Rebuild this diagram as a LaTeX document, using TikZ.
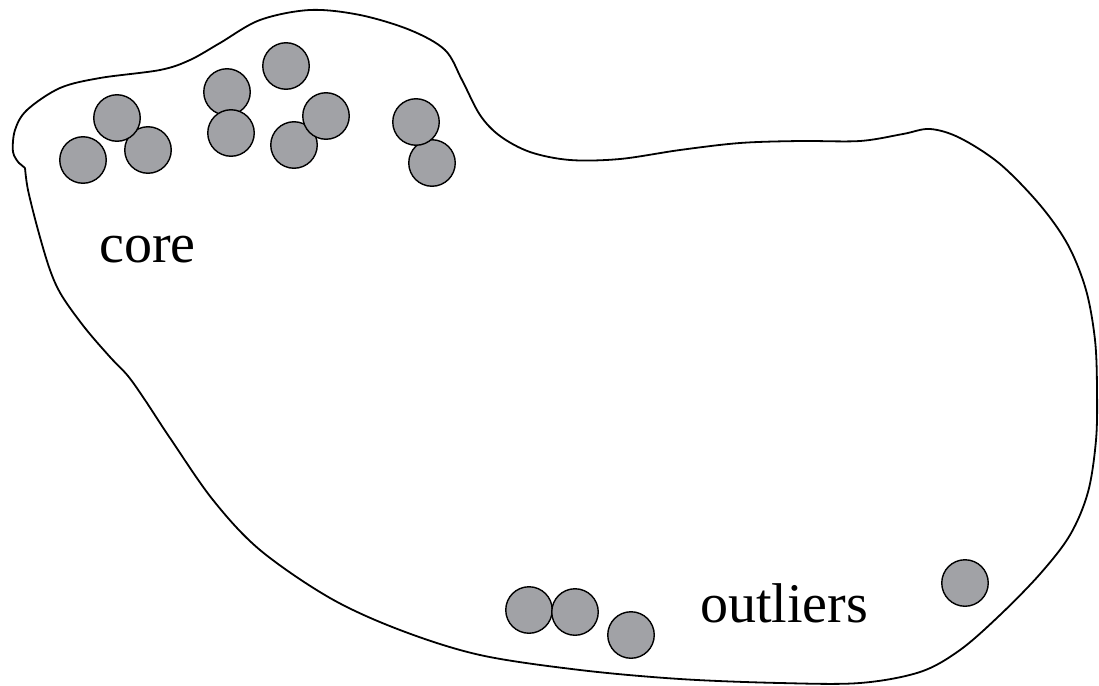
\documentclass[tikz,border=0pt]{standalone}
\usepackage{fontspec}
\setmainfont{Liberation Serif}
\definecolor{dotgray}{RGB}{161,162,166}
\tikzset{
  dot/.style={circle, draw=black, fill=dotgray, line width=1.4pt, minimum size=46.5pt, inner sep=0pt},
  blob/.style={draw=black, line width=1.8pt},
  lbl/.style={anchor=base west, inner sep=0pt, font=\fontsize{56}{60}\selectfont}
}
\begin{document}
\begin{tikzpicture}[x=1pt, y=-1pt]
\useasboundingbox (0,0) rectangle (1099,685);
\draw[blob] plot[smooth, tension=0.55] coordinates {
(25,168) (28,190) (38,230) (50,270) (62,296) (85,328) (110,357) (128,376)
(145,400) (170,438) (213,500) (260,550) (330,598) (400,630) (480,655)
(580,670) (680,679) (780,683) (860,683) (920,672) (960,650) (1000,615)
(1040,574) (1070,535) (1088,492) (1096,440) (1097,390) (1095,340)
(1086,290) (1068,245) (1040,205) (1000,164)
(960,138) (930,129) (903,134) (860,141) (800,141) (740,143) (680,150)
(620,159) (570,160) (530,152) (500,136) (480,115) (462,80) (445,50)
(410,30) (360,15) (310,10) (260,20) (220,43) (190,60) (160,70) (100,78)
(60,88) (27,110) (15,130) (13,152) (19,163)} -- (25,168);
% core points
\node[dot] (c1) at (83,160) {};
\node[dot] (c3) at (148,150) {};
\node[dot] (c2) at (117,118) {};
\node[dot] (c4) at (227,92) {};
\node[dot] (c5) at (231,133) {};
\node[dot] (c6) at (286,66) {};
\node[dot] (c8) at (294,145) {};
\node[dot] (c7) at (326,116) {};
\node[dot] (c10) at (432,163) {};
\node[dot] (c9) at (416,122) {};
% outliers
\node[dot] (d1) at (529,610) {};
\node[dot] (d2) at (575,612) {};
\node[dot] (d3) at (631,635) {};
\node[dot] (d4) at (965,583) {};
\node[lbl] (core) at (99,262) {core};
\node[lbl] (out) at (700,622) {outliers};
\end{tikzpicture}
\end{document}
